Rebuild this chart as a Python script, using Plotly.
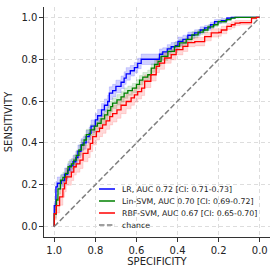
import plotly.graph_objects as go

# ---- data ----
lr_spec = [1.0, 0.992, 0.985, 0.975, 0.966, 0.95, 0.935, 0.925, 0.909, 0.895, 0.885, 0.87, 0.86, 0.845,
           0.83, 0.821, 0.80, 0.789, 0.77, 0.756, 0.74, 0.732, 0.716, 0.70, 0.675, 0.66, 0.65, 0.63,
           0.61, 0.594, 0.577, 0.569, 0.53, 0.488, 0.472, 0.45, 0.431, 0.41, 0.398, 0.374, 0.35,
           0.317, 0.29, 0.268, 0.24, 0.22, 0.187, 0.16, 0.138, 0.10, 0.0]
lr_sens = [0.0, 0.10, 0.19, 0.207, 0.207, 0.22, 0.25, 0.27, 0.29, 0.31, 0.33, 0.36, 0.39, 0.40,
           0.43, 0.446, 0.48, 0.51, 0.53, 0.558, 0.58, 0.598, 0.638, 0.65, 0.67, 0.69, 0.71, 0.73,
           0.745, 0.76, 0.78, 0.80, 0.80, 0.80, 0.824, 0.835, 0.85, 0.86, 0.865, 0.886, 0.895,
           0.915, 0.926, 0.94, 0.95, 0.965, 0.98, 0.985, 0.997, 1.0, 1.0]
lr_ci = [0.0, 0.02, 0.025, 0.03, 0.03, 0.03, 0.03, 0.03, 0.03, 0.03, 0.03, 0.03, 0.03, 0.03,
         0.03, 0.03, 0.03, 0.03, 0.03, 0.03, 0.03, 0.03, 0.03, 0.03, 0.03, 0.03, 0.03, 0.03,
         0.025, 0.025, 0.025, 0.025, 0.025, 0.025, 0.025, 0.02, 0.02, 0.02, 0.02, 0.02, 0.02,
         0.015, 0.015, 0.015, 0.012, 0.012, 0.01, 0.01, 0.005, 0.003, 0.0]

svm_spec = [1.0, 0.99, 0.982, 0.97, 0.958, 0.945, 0.933, 0.917, 0.905, 0.893, 0.88, 0.868, 0.855,
            0.844, 0.825, 0.805, 0.79, 0.772, 0.755, 0.74, 0.725, 0.716, 0.695, 0.675, 0.66, 0.642,
            0.62, 0.60, 0.585, 0.569, 0.545, 0.528, 0.512, 0.495, 0.48, 0.447, 0.415, 0.39, 0.358,
            0.33, 0.30, 0.275, 0.252, 0.225, 0.203, 0.163, 0.14, 0.12, 0.0]
svm_sens = [0.0, 0.06, 0.127, 0.18, 0.222, 0.235, 0.254, 0.286, 0.30, 0.318, 0.34, 0.366, 0.39,
            0.414, 0.44, 0.462, 0.48, 0.494, 0.515, 0.534, 0.555, 0.574, 0.59, 0.606, 0.62, 0.638,
            0.65, 0.662, 0.68, 0.70, 0.715, 0.726, 0.758, 0.775, 0.79, 0.814, 0.838, 0.862, 0.878,
            0.895, 0.917, 0.93, 0.94, 0.955, 0.965, 0.98, 0.99, 0.997, 1.0]
svm_ci = [0.0, 0.02, 0.025, 0.025, 0.025, 0.025, 0.025, 0.025, 0.025, 0.025, 0.025, 0.025, 0.025,
          0.025, 0.025, 0.025, 0.025, 0.025, 0.025, 0.025, 0.025, 0.025, 0.025, 0.025, 0.025, 0.025,
          0.022, 0.022, 0.022, 0.022, 0.022, 0.022, 0.02, 0.02, 0.02, 0.02, 0.018, 0.018, 0.018,
          0.015, 0.015, 0.012, 0.012, 0.01, 0.01, 0.008, 0.006, 0.003, 0.0]

rbf_spec = [1.0, 0.99, 0.974, 0.958, 0.95, 0.942, 0.917, 0.905, 0.893, 0.875, 0.86, 0.836, 0.825,
            0.813, 0.795, 0.78, 0.765, 0.748, 0.73, 0.716, 0.695, 0.675, 0.65, 0.626, 0.61, 0.594,
            0.575, 0.56, 0.53, 0.504, 0.488, 0.463, 0.431, 0.407, 0.374, 0.35, 0.316, 0.268, 0.236,
            0.20, 0.187, 0.16, 0.138, 0.12, 0.096, 0.04, 0.016, 0.0]
rbf_sens = [0.0, 0.062, 0.10, 0.142, 0.18, 0.206, 0.238, 0.26, 0.286, 0.30, 0.318, 0.35, 0.37,
            0.398, 0.43, 0.454, 0.47, 0.486, 0.505, 0.526, 0.54, 0.558, 0.58, 0.598, 0.615, 0.63,
            0.645, 0.662, 0.695, 0.726, 0.766, 0.782, 0.806, 0.822, 0.846, 0.862, 0.88, 0.884, 0.908,
            0.926, 0.928, 0.94, 0.957, 0.965, 0.973, 0.975, 0.997, 1.0]
rbf_ci = [0.0, 0.03, 0.035, 0.04, 0.04, 0.04, 0.04, 0.04, 0.04, 0.04, 0.04, 0.04, 0.04,
          0.04, 0.04, 0.04, 0.04, 0.04, 0.04, 0.04, 0.04, 0.04, 0.04, 0.035, 0.035, 0.035,
          0.035, 0.035, 0.03, 0.03, 0.03, 0.03, 0.025, 0.025, 0.025, 0.025, 0.02, 0.02, 0.02,
          0.02, 0.018, 0.018, 0.015, 0.015, 0.012, 0.01, 0.005, 0.0]

series = [
    ("LR, AUC 0.72 [CI: 0.71-0.73]", lr_spec, lr_sens, lr_ci, "#0000ff", "rgba(0,0,255,0.18)"),
    ("Lin-SVM, AUC 0.70 [CI: 0.69-0.72]", svm_spec, svm_sens, svm_ci, "#008000", "rgba(0,128,0,0.15)"),
    ("RBF-SVM, AUC 0.67 [CI: 0.65-0.70]", rbf_spec, rbf_sens, rbf_ci, "#ff0000", "rgba(255,0,0,0.15)"),
]
chance_name = "chance"
chance_x = [1.0, 0.0]
chance_y = [0.0, 1.0]
ticks = [1.0, 0.8, 0.6, 0.4, 0.2, 0.0]
tick_text = ["1.0", "0.8", "0.6", "0.4", "0.2", "0.0"]

FONT = "DejaVu Sans"
W, H = 277, 276
ML, MR, MT, MB = 44, 7, 7, 39
PW, PH = W - ML - MR, H - MT - MB

fig = go.Figure()

for name, sx, sy, ci, col, fcol in series:
    lo = [max(0.0, a - b) for a, b in zip(sy, ci)]
    hi = [min(1.0, a + b) for a, b in zip(sy, ci)]
    fig.add_trace(go.Scatter(x=sx, y=lo, mode="lines", line=dict(width=0.8, color=fcol, shape="vh"),
                             showlegend=False, hoverinfo="skip"))
    fig.add_trace(go.Scatter(x=sx, y=hi, mode="lines", line=dict(width=0.8, color=fcol, shape="vh"),
                             fill="tonexty", fillcolor=fcol, showlegend=False, hoverinfo="skip"))

for name, sx, sy, ci, col, fcol in series:
    fig.add_trace(go.Scatter(x=sx, y=sy, mode="lines", name=name, showlegend=False,
                             line=dict(width=1.3, color=col, shape="vh")))

chance_dash = "5.5px,2.4px"
fig.add_trace(go.Scatter(x=chance_x, y=chance_y, mode="lines", name=chance_name, showlegend=False,
                         line=dict(width=1.5, color="#808080", dash=chance_dash)))

# ---- hand-drawn legend (matplotlib style, no frame) ----
def px2paper(px, py):
    return (px - ML) / PW, (H - MB - py) / PH

legend_items = [(s[0], s[4], "solid") for s in series] + [(chance_name, "#808080", chance_dash)]
row_y = 189
for label, col, dash in legend_items:
    x0, y0 = px2paper(99, row_y)
    x1, _ = px2paper(115, row_y)
    fig.add_shape(type="line", xref="paper", yref="paper", x0=x0, x1=x1, y0=y0, y1=y0,
                  line=dict(color=col, width=1.5, dash=dash))
    tx, _ = px2paper(120, row_y)
    fig.add_annotation(xref="paper", yref="paper", x=tx, y=y0, text=label, showarrow=False,
                       xanchor="left", yanchor="middle", xshift=0,
                       font=dict(family=FONT, size=7.8, color="#222222"))
    row_y += 12

axis_common = dict(
    showline=True, linecolor="#333333", linewidth=1.2, mirror=False,
    ticks="outside", ticklen=3.5, tickwidth=1.2, tickcolor="#333333",
    showgrid=True, gridcolor="#dddddd", gridwidth=1, griddash="4px,3px",
    zeroline=False, tickfont=dict(family=FONT, size=10, color="#222222"),
    tickvals=ticks, ticktext=tick_text, automargin=False,
)
fig.update_xaxes(range=[1.05, -0.05], title=dict(text="SPECIFICITY", standoff=3,
                 font=dict(family=FONT, size=10, color="#222222")), **axis_common)
fig.update_yaxes(range=[-0.05, 1.05], title=dict(text="SENSITIVITY", standoff=6,
                 font=dict(family=FONT, size=10, color="#222222")), **axis_common)

fig.update_layout(
    width=W, height=H,
    margin=dict(l=ML, r=MR, t=MT, b=MB),
    paper_bgcolor="white", plot_bgcolor="white",
    font=dict(family=FONT, color="#222222"),
    showlegend=False,
)

fig.write_html("out.html", config={"displayModeBar": False},
               post_script="document.body.style.margin='0px';")
